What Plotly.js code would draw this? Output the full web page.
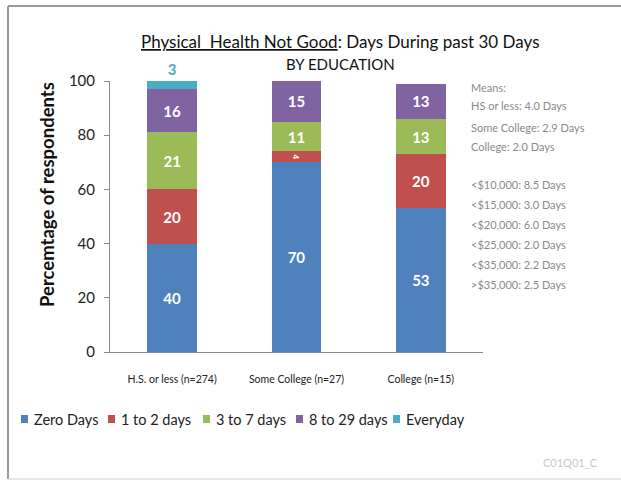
<!DOCTYPE html>
<html>
<head>
<meta charset="utf-8">
<script src="https://cdn.plot.ly/plotly-3.0.1.min.js"></script>
<style>html,body{margin:0;padding:0;background:#fff;}#chart{width:621px;height:481px;}</style>
</head>
<body>
<div id="chart"></div>
<script>
// ---- data ----
const categories = ["H.S. or less (n=274)", "Some College (n=27)", "College (n=15)"];
const seriesNames = ["Zero Days", "1 to 2 days", "3 to 7 days", "8 to 29 days", "Everyday"];
const zeroDays = [40, 70, 53];
const oneToTwo = [20, 4, 20];
const threeToSeven = [21, 11, 13];
const eightTo29 = [16, 15, 13];
const everyday = [3, 0, 0];
const yTicks = [0, 20, 40, 60, 80, 100];
const meansLines = [
  "Means:",
  "HS or less: 4.0 Days",
  "Some College: 2.9 Days",
  "College: 2.0 Days",
  "",
  "<$10,000: 8.5 Days",
  "<$15,000: 3.0 Days",
  "<$20,000: 6.0 Days",
  "<$25,000: 2.0 Days",
  "<$35,000: 2.2 Days",
  ">$35,000: 2.5 Days"
];

// ---- style ----
const colors = ["#4F81BD", "#C0504D", "#9BBB59", "#8064A2", "#4BACC6"];
const FONT = "Lato, 'Open Sans', sans-serif";
const W = 621, H = 481;
const M = {l: 110, r: 138, t: 81, b: 129, autoexpand: false};
const pw = W - M.l - M.r, ph = H - M.t - M.b;
const px = x => (x - M.l) / pw;
const py = y => (H - M.b - y) / ph;

const allSeries = [zeroDays, oneToTwo, threeToSeven, eightTo29, everyday];
const traces = allSeries.map((vals, i) => {
  const isTop = i === allSeries.length - 1;
  return {
    type: "bar",
    name: seriesNames[i],
    x: categories,
    y: vals,
    marker: {color: colors[i], line: {width: 0}},
    text: vals.map(v => v > 0 ? String(v) : ""),
    textposition: isTop ? "outside" : "inside",
    insidetextanchor: "middle",
    insidetextfont: {family: FONT, size: 15, color: "#ffffff", weight: "bold"},
    outsidetextfont: {family: FONT, size: 15, color: colors[i], weight: "bold"},
    constraintext: "inside",
    cliponaxis: false,
    hoverinfo: "skip"
  };
});

const annotations = [];
const shapes = [];
annotations.push({
  xref: "paper", yref: "paper", x: px(340), y: py(42), xanchor: "center", yanchor: "middle",
  text: "<span style=\"text-decoration:underline\">Physical  Health Not Good</span>: Days During past 30 Days",
  showarrow: false, font: {family: FONT, size: 17, color: "#111"}
});
annotations.push({
  xref: "paper", yref: "paper", x: px(340), y: py(64), xanchor: "center", yanchor: "middle",
  text: "BY EDUCATION", showarrow: false, font: {family: FONT, size: 15, color: "#111"}
});
annotations.push({
  xref: "paper", yref: "paper", x: px(47), y: py(195), xanchor: "center", yanchor: "middle",
  text: "Percemtage of respondents", textangle: -90, showarrow: false,
  font: {family: FONT, size: 18.5, color: "#111", weight: "bold"}
});
const lineY = [87, 105, 127, 146, 165, 184, 204, 224, 244, 264, 284];
meansLines.forEach((t, i) => {
  if (!t) return;
  annotations.push({
    xref: "paper", yref: "paper", x: px(469), y: py(lineY[i]), xanchor: "left", yanchor: "middle",
    text: t.replace(/</g, "&lt;").replace(/>/g, "&gt;"), showarrow: false,
    font: {family: FONT, size: 11, color: "#8a8a8a"}
  });
});
annotations.push({
  xref: "paper", yref: "paper", x: px(600), y: py(462), xanchor: "right", yanchor: "middle",
  text: "C01Q01_C", showarrow: false, font: {family: FONT, size: 11, color: "#c8c8c8"}
});

// legend (compact, Excel-like)
const legendX = [21, 108, 203, 296, 393];
const legendY = 419;
seriesNames.forEach((name, i) => {
  shapes.push({
    type: "rect", xref: "paper", yref: "paper",
    x0: px(legendX[i]), x1: px(legendX[i] + 7), y0: py(legendY + 4), y1: py(legendY - 4),
    fillcolor: colors[i], line: {width: 0}
  });
  annotations.push({
    xref: "paper", yref: "paper", x: px(legendX[i] + 11), y: py(legendY), xanchor: "left", yanchor: "middle",
    text: name, showarrow: false, font: {family: FONT, size: 14.5, color: "#222"}
  });
});

shapes.push(
  {type: "line", xref: "paper", yref: "paper", x0: px(8), x1: px(8), y0: py(6), y1: py(479), line: {color: "#9a9a9a", width: 2}},
  {type: "line", xref: "paper", yref: "paper", x0: px(8), x1: px(625), y0: py(6), y1: py(6), line: {color: "#9a9a9a", width: 2}},
  {type: "line", xref: "paper", yref: "paper", x0: px(8), x1: px(625), y0: py(479), y1: py(479), line: {color: "#d0d0d0", width: 1}}
);

const layout = {
  width: W, height: H,
  margin: M,
  paper_bgcolor: "#ffffff", plot_bgcolor: "#ffffff",
  barmode: "stack",
  bargap: 0.6,
  showlegend: false,
  xaxis: {
    type: "category",
    showline: true, linecolor: "#8a8a8a", linewidth: 1,
    ticks: "", showgrid: false, zeroline: false,
    tickfont: {family: FONT, size: 10.5, color: "#222"},
    ticklabelstandoff: 17,
    fixedrange: true
  },
  yaxis: {
    range: [0, 100], tickvals: yTicks, ticktext: yTicks.map(String),
    showline: true, linecolor: "#8a8a8a", linewidth: 1,
    ticks: "outside", ticklen: 5, tickcolor: "#8a8a8a",
    showgrid: false, zeroline: false,
    tickfont: {family: FONT, size: 15, color: "#222"},
    ticklabelstandoff: 6,
    fixedrange: true
  },
  annotations: annotations,
  shapes: shapes
};

Plotly.newPlot("chart", traces, layout, {displayModeBar: false, staticPlot: true});
</script>
</body>
</html>
